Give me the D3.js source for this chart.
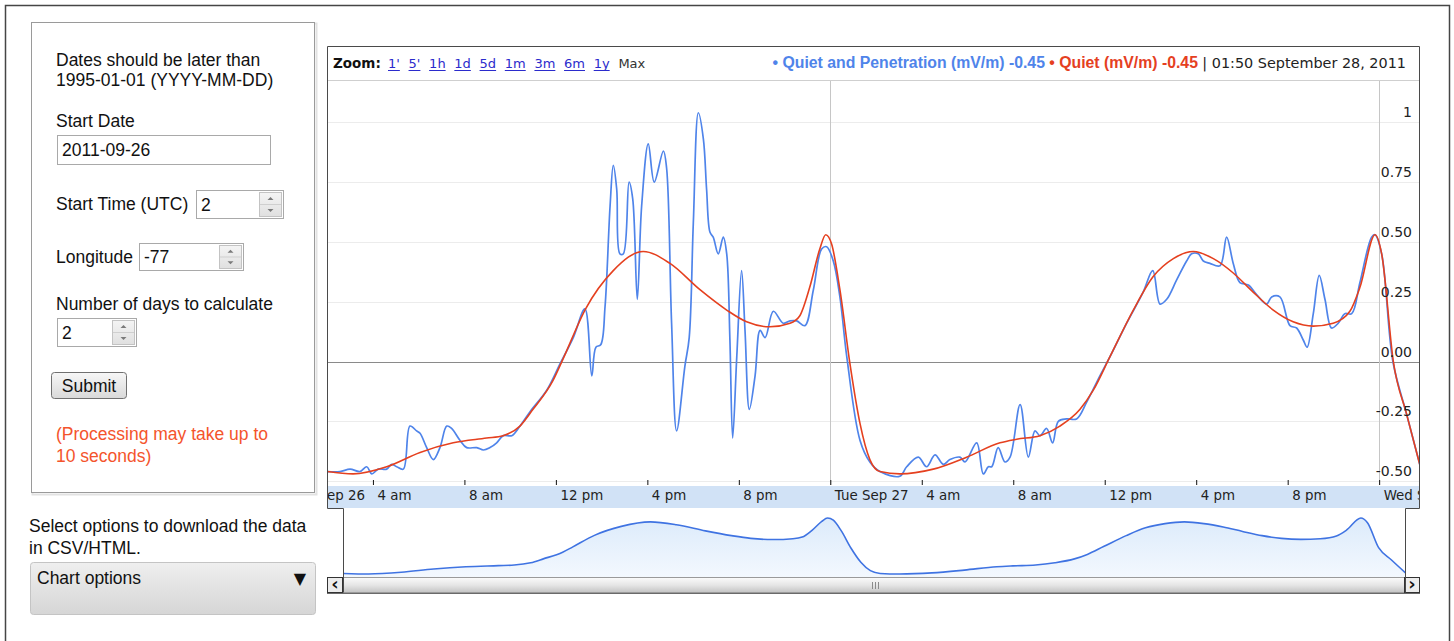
<!DOCTYPE html>
<html><head><meta charset="utf-8">
<script src="https://cdn.jsdelivr.net/npm/d3@7"></script>
<style>
html,body{margin:0;padding:0;background:#fff;overflow:hidden}
svg{display:block}
</style></head><body>
<svg id="c" width="1454" height="641"></svg>
<script>
// ---------------- DATA ----------------
const zoomLinks = ["1'", "5'", "1h", "1d", "5d", "1m", "3m", "6m", "1y"];
const zoomCurrent = "Max";
const seriesNames = ["Quiet and Penetration (mV/m)", "Quiet (mV/m)"];
const legendValues = ["-0.45", "-0.45"];
const legendDate = "01:50 September 28, 2011";
const yTicks = [-0.5, -0.25, 0, 0.25, 0.5, 0.75, 1];
const yTickLabels = ["-0.50", "-0.25", "0.00", "0.25", "0.50", "0.75", "1"];
// hours since 2011-09-26 00:00 UTC
const xTickHours = [0, 4, 8, 12, 16, 20, 24, 28, 32, 36, 40, 44, 48];
const xTickLabels = ["Mon Sep 26", "4 am", "8 am", "12 pm", "4 pm", "8 pm", "Tue Sep 27", "4 am", "8 am", "12 pm", "4 pm", "8 pm", "Wed Sep 28"];
const dayLineHours = [24, 48];
const domainHours = [2, 49.83];

// Quiet and Penetration (mV/m)
const penHours = [
  2.00, 2.56, 3.00, 3.43, 3.73, 3.95, 4.23, 4.60, 4.82, 5.04,
  5.33, 5.62, 5.91, 6.06, 6.35, 6.64, 6.93, 7.23, 7.44, 7.81,
  8.10, 8.54, 8.83, 9.12, 9.41, 9.70, 10.07, 10.43, 10.87, 11.60,
  12.18, 12.76, 13.27, 13.57, 13.75, 13.96, 14.15, 14.37, 14.51, 14.66,
  14.80, 14.95, 15.20, 15.36, 15.56, 15.75, 16.04, 16.30, 16.70, 16.84,
  17.06, 17.28, 17.64, 17.83, 18.01, 18.23, 18.45, 18.59, 18.74, 18.88,
  19.10, 19.32, 19.47, 19.61, 19.73, 19.91, 20.12, 20.27, 20.46, 20.71,
  20.93, 21.15, 21.51, 21.94, 22.24, 22.53, 22.89, 23.26, 23.62, 23.84,
  24.13, 24.42, 24.72, 25.30, 25.73, 26.17, 27.04, 27.34, 27.85, 28.21,
  28.58, 28.94, 29.23, 29.67, 29.89, 30.40, 30.69, 30.91, 31.06, 31.34,
  31.64, 31.86, 32.30, 32.66, 32.95, 33.17, 33.46, 33.72, 33.97, 34.33,
  34.77, 35.21, 35.79, 36.23, 36.96, 37.68, 38.10, 38.42, 38.71, 39.14,
  39.58, 39.80, 40.09, 40.31, 40.60, 41.04, 41.33, 41.62, 41.91, 42.28,
  42.64, 43.08, 43.30, 43.66, 44.10, 44.39, 44.68, 44.85, 45.12, 45.38,
  45.63, 45.92, 46.21, 46.50, 46.80, 47.16, 47.67, 47.82, 48.11, 48.60,
  49.20, 49.83
];
const penValues = [
  -0.46, -0.46, -0.45, -0.46, -0.44, -0.47, -0.45, -0.45, -0.43, -0.44,
  -0.45, -0.27, -0.29, -0.30, -0.36, -0.41, -0.36, -0.27, -0.28, -0.33,
  -0.36, -0.36, -0.37, -0.36, -0.34, -0.31, -0.31, -0.27, -0.21, -0.12,
  -0.01, 0.10, 0.22, -0.06, 0.06, 0.07, 0.23, 0.65, 0.82, 0.72,
  0.45, 0.45, 0.75, 0.68, 0.26, 0.65, 0.91, 0.75, 0.88, 0.81,
  0.16, -0.29, -0.02, 0.10, 0.58, 1.04, 0.93, 0.72, 0.54, 0.52,
  0.45, 0.52, 0.45, 0.09, -0.32, 0.02, 0.38, 0.13, -0.20, -0.06,
  0.13, 0.10, 0.21, 0.16, 0.17, 0.17, 0.15, 0.30, 0.47, 0.48,
  0.42, 0.27, 0.02, -0.33, -0.42, -0.46, -0.48, -0.44, -0.40, -0.44,
  -0.39, -0.43, -0.41, -0.40, -0.42, -0.34, -0.47, -0.44, -0.44, -0.36,
  -0.42, -0.40, -0.18, -0.40, -0.29, -0.31, -0.28, -0.34, -0.25, -0.24,
  -0.24, -0.17, -0.06, 0.02, 0.16, 0.29, 0.38, 0.24, 0.26, 0.34,
  0.42, 0.45, 0.45, 0.42, 0.41, 0.40, 0.52, 0.41, 0.33, 0.32,
  0.28, 0.24, 0.27, 0.27, 0.15, 0.14, 0.09, 0.06, 0.20, 0.36,
  0.26, 0.14, 0.16, 0.20, 0.20, 0.33, 0.52, 0.53, 0.45, 0.00,
  -0.22, -0.45
];

// Quiet (mV/m)
const quietHours = [
  2.00, 3.13, 4.60, 6.06, 7.51, 8.97, 9.69, 10.43, 11.00, 11.87,
  12.31, 13.30, 14.51, 15.82, 16.99, 18.30, 19.47, 20.34, 21.36, 22.24,
  22.66, 23.10, 23.54, 23.80, 24.06, 24.42, 24.86, 25.30, 25.73, 26.17,
  27.04, 28.50, 29.96, 31.42, 32.15, 33.17, 34.04, 34.92, 35.50, 36.23,
  37.25, 38.12, 39.00, 39.87, 40.75, 41.62, 42.49, 43.37, 44.24, 45.12,
  45.99, 46.72, 47.16, 47.82, 48.11, 48.62, 49.20, 49.83
];
const quietValues = [
  -0.46, -0.47, -0.44, -0.38, -0.34, -0.32, -0.31, -0.27, -0.20, -0.08,
  0.01, 0.22, 0.38, 0.46, 0.41, 0.30, 0.215, 0.166, 0.145, 0.16,
  0.19, 0.31, 0.47, 0.53, 0.49, 0.30, -0.01, -0.26, -0.41, -0.46,
  -0.47, -0.45, -0.40, -0.34, -0.325, -0.31, -0.27, -0.20, -0.12, 0.02,
  0.215, 0.355, 0.43, 0.46, 0.43, 0.37, 0.29, 0.215, 0.166, 0.148,
  0.16, 0.21, 0.31, 0.53, 0.45, 0.00, -0.22, -0.45
];

// Form content
const formLines = ["Dates should be later than", "1995-01-01 (YYYY-MM-DD)"];
const formFields = [
  {label: "Start Date", value: "2011-09-26"},
  {label: "Start Time (UTC)", value: "2"},
  {label: "Longitude", value: "-77"},
  {label: "Number of days to calculate", value: "2"}
];
const submitText = "Submit";
const noteLines = ["(Processing may take up to", "10 seconds)"];
const downloadLines = ["Select options to download the data", "in CSV/HTML."];
const dropdownText = "Chart options";

// ---------------- DRAW ----------------
const BLUE = "#4f84ea", RED = "#e5401f";
const svg = d3.select("#c");
const defs = svg.append("defs");
const AX = "DejaVu Sans, Verdana, sans-serif";
const AR = "Liberation Sans, Arial, sans-serif";

function vgrad(id, stops) {
  const g = defs.append("linearGradient").attr("id", id).attr("x1", 0).attr("y1", 0).attr("x2", 0).attr("y2", 1);
  stops.forEach(s => g.append("stop").attr("offset", s[0]).attr("stop-color", s[1]));
}
vgrad("btn", [[0, "#f7f7f7"], [1, "#d9d9d9"]]);
vgrad("spin", [[0, "#f4f4f4"], [1, "#e0e0e0"]]);
vgrad("dd", [[0, "#efefef"], [0.5, "#e2e2e2"], [1, "#d6d6d6"]]);
vgrad("navfill", [[0, "#dcebfb"], [1, "#f3f8fe"]]);
vgrad("scroll", [[0, "#fbfbfb"], [0.5, "#e6e6e6"], [1, "#c4c4c4"]]);

// outer frame
svg.append("rect").attr("x", 5.5).attr("y", 5.5).attr("width", 1444).attr("height", 700)
  .attr("fill", "none").attr("stroke", "#454545").attr("stroke-width", 1.5);

// ---- left panel ----
const lp = svg.append("g");
lp.append("rect").attr("x", 32.5).attr("y", 23.5).attr("width", 284).attr("height", 471)
  .attr("fill", "none").attr("stroke", "#e2e2e2").attr("stroke-width", 2);
lp.append("rect").attr("x", 31.5).attr("y", 22.5).attr("width", 283).attr("height", 470)
  .attr("fill", "#fff").attr("stroke", "#9a9a9a");

const tx = (g, x, y, s, opt = {}) => g.append("text").attr("x", x).attr("y", y).text(s)
  .attr("font-family", opt.ff || AR).attr("font-size", opt.fs || 17.5).attr("fill", opt.fill || "#111")
  .attr("font-weight", opt.fw || "normal").attr("text-anchor", opt.anchor || "start");

formLines.forEach((s, i) => tx(lp, 56, 66 + i * 20, s));

function spinner(g, x, y, w, h) {
  g.append("rect").attr("x", x + 0.5).attr("y", y + 0.5).attr("width", w).attr("height", h)
    .attr("fill", "url(#spin)").attr("stroke", "#c3c3c3");
  g.append("line").attr("x1", x + 1).attr("x2", x + w).attr("y1", y + h / 2 + 0.5).attr("y2", y + h / 2 + 0.5).attr("stroke", "#cfcfcf");
  const cx = x + w / 2 + 0.5, q = h / 4;
  g.append("path").attr("d", `M${cx - 3},${y + q + 2}L${cx + 3},${y + q + 2}L${cx},${y + q - 1}Z`).attr("fill", "#7a7a7a");
  g.append("path").attr("d", `M${cx - 3},${y + 3 * q - 1}L${cx + 3},${y + 3 * q - 1}L${cx},${y + 3 * q + 2}Z`).attr("fill", "#7a7a7a");
}
function inputBox(g, x, y, w, h, val, spin) {
  g.append("rect").attr("x", x + 0.5).attr("y", y + 0.5).attr("width", w).attr("height", h)
    .attr("fill", "#fff").attr("stroke", "#a9a9a9");
  tx(g, x + 5, y + h / 2 + 6.5, val);
  if (spin) spinner(g, x + w - 24, y + 2, 22, h - 4);
}
tx(lp, 56, 127, formFields[0].label);
inputBox(lp, 57, 135, 213, 29, formFields[0].value, false);
tx(lp, 56, 210, formFields[1].label);
inputBox(lp, 196, 190, 87, 28, formFields[1].value, true);
tx(lp, 56, 263, formFields[2].label);
inputBox(lp, 139, 243, 104, 27, formFields[2].value, true);
tx(lp, 56, 310, formFields[3].label);
inputBox(lp, 57, 318, 79, 28, formFields[3].value, true);
lp.append("rect").attr("x", 51.5).attr("y", 372.5).attr("width", 75).attr("height", 26).attr("rx", 3)
  .attr("fill", "url(#btn)").attr("stroke", "#707070");
tx(lp, 89, 392, submitText, {anchor: "middle"});
noteLines.forEach((s, i) => tx(lp, 56, 440 + i * 22, s, {fill: "#f4542c"}));

downloadLines.forEach((s, i) => tx(svg, 29, 532 + i * 22, s));
svg.append("rect").attr("x", 30.5).attr("y", 562.5).attr("width", 285).attr("height", 52).attr("rx", 3)
  .attr("fill", "url(#dd)").attr("stroke", "#c4c4c4");
tx(svg, 37, 584, dropdownText);
tx(svg, 300, 584, "▼", {anchor: "middle", fs: 16, ff: "DejaVu Sans"});

// ---- chart ----
const L = 327, R = 1419, T = 80, B = 485;
const x = d3.scaleLinear().domain(domainHours).range([327.2, 1421]);
const y = d3.scaleLinear().domain([-0.5, 1]).range([481.1, 122.3]);

const chart = svg.append("g");
defs.append("clipPath").attr("id", "plotclip").append("rect")
  .attr("x", L + 0.5).attr("y", T).attr("width", R - L - 0.5).attr("height", B - T);
defs.append("clipPath").attr("id", "axisclip").append("rect")
  .attr("x", L + 0.5).attr("y", T).attr("width", R - L - 0.5).attr("height", 40 + B - T);

// horizontal gridlines
chart.append("g").selectAll("line").data(yTicks).join("line")
  .attr("x1", L).attr("x2", R)
  .attr("y1", d => Math.round(y(d)) + 0.5).attr("y2", d => Math.round(y(d)) + 0.5)
  .attr("stroke", d => d === 0 ? "#8a8a8a" : "#ececec").attr("stroke-width", 1);
// day lines
chart.append("g").selectAll("line").data(dayLineHours).join("line")
  .attr("x1", d => Math.round(x(d)) + 0.5).attr("x2", d => Math.round(x(d)) + 0.5)
  .attr("y1", T).attr("y2", B).attr("stroke", "#c6c6c6");

// x band
chart.append("rect").attr("x", L).attr("y", 486).attr("width", R - L).attr("height", 22).attr("fill", "#d1e2f6");

// x axis (clipped to the plot width, like the reference)
const xAxis = d3.axisBottom(x).tickValues(xTickHours).tickFormat((d, i) => xTickLabels[i])
  .tickSizeInner(-5).tickSizeOuter(0).tickPadding(0);
const gxWrap = chart.append("g").attr("clip-path", "url(#axisclip)");
const gx = gxWrap.append("g").attr("transform", `translate(0,${B})`).call(xAxis);
gx.select(".domain").remove();
gx.selectAll(".tick line").attr("stroke", "#111");
gx.selectAll(".tick text").attr("text-anchor", "start").attr("x", 4).attr("y", 15).attr("dy", 0)
  .attr("font-family", AX).attr("font-size", 13.4).attr("fill", "#222");

// lines
const plot = chart.append("g").attr("clip-path", "url(#plotclip)");
const penData = penHours.map((h, i) => [h, penValues[i]]);
const quietData = quietHours.map((h, i) => [h, quietValues[i]]);
const lineBlue = d3.line().x(d => x(d[0])).y(d => y(d[1])).curve(d3.curveCatmullRom.alpha(0.5));
const lineRed = d3.line().x(d => x(d[0])).y(d => y(d[1])).curve(d3.curveMonotoneX);
plot.append("path").datum(penData).attr("d", lineBlue).attr("fill", "none").attr("stroke", BLUE).attr("stroke-width", 1.7);
plot.append("path").datum(quietData).attr("d", lineRed).attr("fill", "none").attr("stroke", RED).attr("stroke-width", 1.6);

// y axis labels (inside, right)
const yAxis = d3.axisLeft(y).tickValues(yTicks).tickFormat((d, i) => yTickLabels[i]).tickSize(0).tickPadding(0);
const gy = chart.append("g").attr("transform", "translate(1412,0)").call(yAxis);
gy.select(".domain").remove();
gy.selectAll(".tick text").attr("dy", 0).attr("y", -5.5).attr("font-family", AX).attr("font-size", 14).attr("fill", "#222");

// header
chart.append("line").attr("x1", L).attr("x2", R).attr("y1", 80.5).attr("y2", 80.5).attr("stroke", "#cfcfcf");
tx(chart, 333, 68, "Zoom:", {ff: AX, fs: 13.5, fw: "bold", fill: "#111"});
let zx = 388;
zoomLinks.forEach(s => {
  const t = tx(chart, zx, 68, s, {ff: AX, fs: 13, fill: "#2b2bcc"});
  const w = t.node().getComputedTextLength();
  chart.append("line").attr("x1", zx).attr("x2", zx + w).attr("y1", 70.5).attr("y2", 70.5).attr("stroke", "#2b2bcc");
  zx += w + 8.7;
});
tx(chart, zx, 68, zoomCurrent, {ff: AX, fs: 13, fill: "#333"});

// legend
const lg = chart.append("text").attr("x", 1406).attr("y", 68).attr("text-anchor", "end");
lg.append("tspan").attr("font-family", AR).attr("font-size", 15.8).attr("font-weight", "bold").attr("fill", BLUE).text("• " + seriesNames[0] + " " + legendValues[0] + " ");
lg.append("tspan").attr("font-family", AR).attr("font-size", 15.8).attr("font-weight", "bold").attr("fill", RED).text("• " + seriesNames[1] + " " + legendValues[1] + " ");
lg.append("tspan").attr("font-family", AX).attr("font-size", 14.4).attr("fill", "#222").text("| " + legendDate);

// navigator
const xn = d3.scaleLinear().domain(domainHours).range([343.5, 1405.5]);
const yn = d3.scaleLinear().domain([-0.47, 0.53]).range([574, 518]);
const nav = chart.append("g");
nav.append("path").datum(quietData)
  .attr("d", d3.area().x(d => xn(d[0])).y0(577).y1(d => yn(d[1])).curve(d3.curveMonotoneX))
  .attr("fill", "url(#navfill)");
nav.append("path").datum(quietData)
  .attr("d", d3.line().x(d => xn(d[0])).y(d => yn(d[1])).curve(d3.curveMonotoneX))
  .attr("fill", "none").attr("stroke", "#3f73e2").attr("stroke-width", 1.6);

// scrollbar
nav.append("rect").attr("x", 343.5).attr("y", 577.5).attr("width", 1062).attr("height", 15).attr("fill", "url(#scroll)").attr("stroke", "#9a9a9a");
[-3, 0, 3].forEach(o => nav.append("line").attr("x1", 875.5 + o).attr("x2", 875.5 + o).attr("y1", 582).attr("y2", 589).attr("stroke", "#8a8a8a"));
[[327.5, "‹"], [1404.5, "›"]].forEach(([bx, ch]) => {
  nav.append("rect").attr("x", bx).attr("y", 577.5).attr("width", 15).attr("height", 15).attr("fill", "#ececec").attr("stroke", "#333");
  tx(nav, bx + 7.5, 590, ch, {ff: AX, fs: 18, fw: "bold", anchor: "middle", fill: "#111"});
});

// chart outline
chart.append("path")
  .attr("d", `M343.5,592.5 V508.5 H327.5 V46.5 H1419.5 V508.5 H1405.5 V592.5`)
  .attr("fill", "none").attr("stroke", "#4a4a4a");
chart.append("line").attr("x1", 327).attr("x2", 1420).attr("y1", 593.5).attr("y2", 593.5).attr("stroke", "#6a6a6a");
</script>
</body></html>
